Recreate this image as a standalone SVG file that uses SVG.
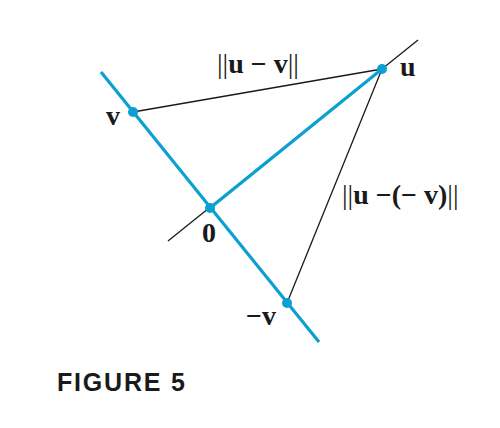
<svg xmlns="http://www.w3.org/2000/svg" width="500" height="428" viewBox="0 0 500 428">
<style>
.blue{stroke:#0aa0d2;stroke-width:3.2;fill:none;stroke-linecap:butt}
.thin{stroke:#1a1a1a;stroke-width:1.3;fill:none}
.dot{fill:#0aa0d2}
.lbl{font-family:"Liberation Serif",serif;font-weight:bold;font-size:28px;fill:#1a1a1a}
.bar{font-weight:normal}
.cap{font-family:"Liberation Sans",Arial,sans-serif;font-weight:bold;font-size:25px;letter-spacing:1.8px;fill:#1a1a1a}
</style>
<rect width="500" height="428" fill="#ffffff"/>
<g id="connectors">
<line class="thin" x1="168" y1="241" x2="418" y2="40"/>
<line class="thin" x1="133" y1="112" x2="382" y2="69"/>
<line class="thin" x1="382" y1="69" x2="287" y2="303"/>
<line class="blue" x1="101" y1="72" x2="319" y2="342"/>
<line class="blue" x1="210" y1="208" x2="382" y2="69"/>
</g>
<g id="node-u"><circle class="dot" cx="382" cy="69" r="5"/><text class="lbl" x="400" y="76">u</text></g>
<g id="node-v"><circle class="dot" cx="133" cy="112" r="5"/><text class="lbl" x="106" y="125">v</text></g>
<g id="node-0"><circle class="dot" cx="210" cy="208" r="5"/><text class="lbl" x="202" y="242">0</text></g>
<g id="node-negv"><circle class="dot" cx="287" cy="303" r="5"/><text class="lbl" x="246" y="325">−v</text></g>
<g id="labels">
<text class="lbl" x="217" y="73"><tspan class="bar">||</tspan>u − v<tspan class="bar">||</tspan></text>
<text class="lbl" x="342" y="204"><tspan class="bar">||</tspan>u −(− v)<tspan class="bar">||</tspan></text>
<text class="cap" x="57" y="391">FIGURE 5</text>
</g>
</svg>
